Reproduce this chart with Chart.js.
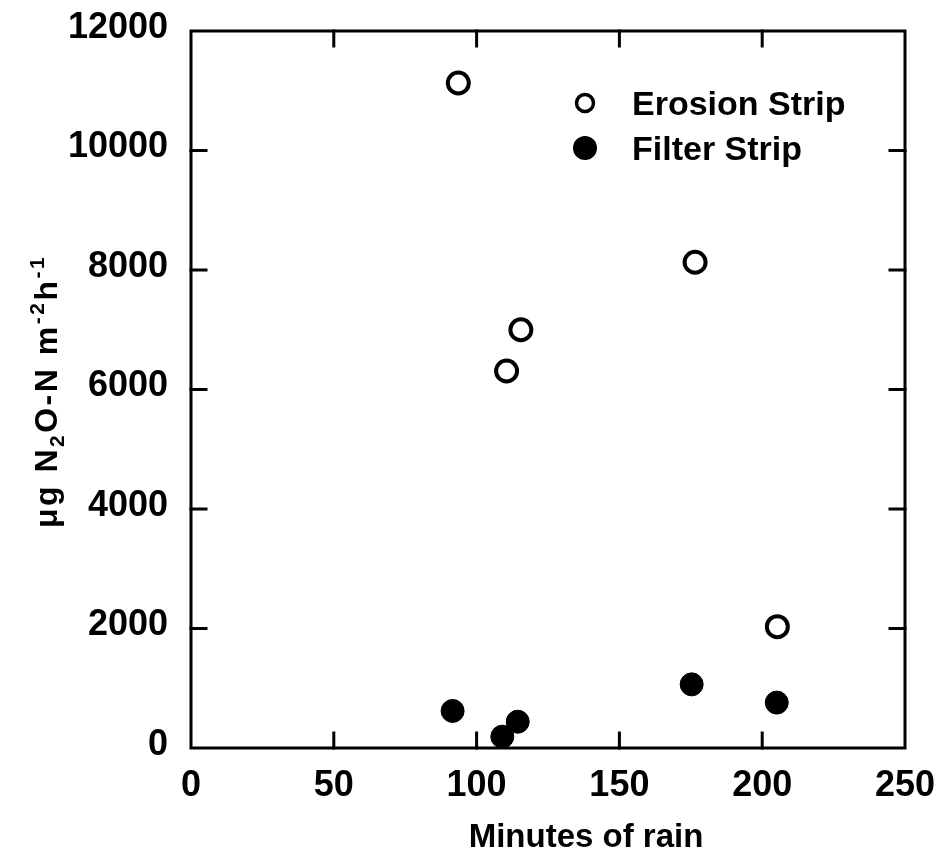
<!DOCTYPE html>
<html><head><meta charset="utf-8">
<script src="https://cdn.jsdelivr.net/npm/chart.js@4"></script>
<style>html,body{margin:0;padding:0;background:#fff}canvas{display:block}</style>
</head><body>
<canvas id="c" width="941" height="859"></canvas>
<script>
const FONT = '"Liberation Sans", Arial, Helvetica, sans-serif';

// ---- data ----
const erosionX = [93.6, 110.5, 115.5, 176.5, 205.3];
const erosionY = [11130, 6310, 7000, 8130, 2030];
const filterX  = [91.6, 109.0, 114.4, 175.3, 205.1];
const filterY  = [620, 190, 440, 1065, 760];
const seriesNames = ['Erosion Strip', 'Filter Strip'];
const xTickValues = [0, 50, 100, 150, 200, 250];
const yTickValues = [0, 2000, 4000, 6000, 8000, 10000, 12000];
const xTitle = 'Minutes of rain';
const yTitleParts = [['μg N',''],['2','sub'],['O-N m',''],['-2','sup'],['h',''],['-1','sup']];

const toPoints = (xs, ys) => xs.map((x, i) => ({x: x, y: ys[i]}));

// frame with inward ticks on all four sides
const framePlugin = {
  id: 'frame',
  beforeDatasetsDraw(chart) {
    const {ctx, chartArea: a, scales: {x, y}} = chart;
    const L = 15;
    ctx.save();
    ctx.strokeStyle = '#000';
    ctx.lineWidth = 3;
    ctx.lineCap = 'square';
    ctx.strokeRect(a.left, a.top, a.right - a.left, a.bottom - a.top);
    ctx.beginPath();
    xTickValues.slice(1, -1).forEach(v => {
      const px = x.getPixelForValue(v);
      ctx.moveTo(px, a.bottom); ctx.lineTo(px, a.bottom - L);
      ctx.moveTo(px, a.top); ctx.lineTo(px, a.top + L);
    });
    yTickValues.slice(1, -1).forEach(v => {
      const py = y.getPixelForValue(v);
      ctx.moveTo(a.left, py); ctx.lineTo(a.left + L, py);
      ctx.moveTo(a.right, py); ctx.lineTo(a.right - L, py);
    });
    ctx.stroke();
    ctx.restore();
  }
};

// axis titles (with sub/superscripts) and legend
const textPlugin = {
  id: 'texts',
  afterDraw(chart) {
    const {ctx, chartArea: a} = chart;
    ctx.save();
    ctx.fillStyle = '#000';
    // x title
    ctx.font = 'bold 33px ' + FONT;
    ctx.textAlign = 'center';
    ctx.textBaseline = 'alphabetic';
    ctx.fillText(xTitle, (a.left + a.right) / 2 + 38, 847);

    // y title rotated
    const mainF = 'bold 32px ' + FONT, smallF = 'bold 21px ' + FONT;
    ctx.translate(57, (a.top + a.bottom) / 2 + 2);
    ctx.rotate(-Math.PI / 2);
    ctx.textAlign = 'left';
    try { ctx.letterSpacing = '2.5px'; } catch (e) {}
    let total = 0;
    yTitleParts.forEach(([t, k]) => { ctx.font = k ? smallF : mainF; total += ctx.measureText(t).width; });
    let cx = -total / 2;
    yTitleParts.forEach(([t, k]) => {
      ctx.font = k ? smallF : mainF;
      const dy = k === 'sub' ? 7 : (k === 'sup' ? -13 : 0);
      ctx.fillText(t, cx, dy);
      cx += ctx.measureText(t).width;
    });
    ctx.restore();

    // legend
    ctx.save();
    const rows = [103, 148];
    chart.data.datasets.forEach((ds, i) => {
      const cy = rows[i], mx = 585;
      ctx.beginPath();
      if (ds.backgroundColor === '#000') {
        ctx.arc(mx, cy, 12, 0, Math.PI * 2);
        ctx.fillStyle = '#000'; ctx.fill();
      } else {
        ctx.arc(mx, cy, 8.5, 0, Math.PI * 2);
        ctx.lineWidth = 3.5; ctx.strokeStyle = '#000'; ctx.stroke();
      }
      ctx.fillStyle = '#000';
      ctx.font = 'bold 34px ' + FONT;
      ctx.textAlign = 'left';
      ctx.textBaseline = 'alphabetic';
      ctx.fillText(ds.label, 632, cy + 12);
    });
    ctx.restore();
  }
};

new Chart(document.getElementById('c'), {
  type: 'scatter',
  data: {
    datasets: [
      {
        label: seriesNames[0],
        data: toPoints(erosionX, erosionY),
        pointStyle: 'circle',
        pointRadius: 10.5,
        pointHoverRadius: 10.5,
        borderWidth: 4,
        borderColor: '#000',
        backgroundColor: '#fff',
        clip: false
      },
      {
        label: seriesNames[1],
        data: toPoints(filterX, filterY),
        pointStyle: 'circle',
        pointRadius: 11.5,
        pointHoverRadius: 11.5,
        borderWidth: 1,
        borderColor: '#000',
        backgroundColor: '#000',
        clip: false
      }
    ]
  },
  options: {
    responsive: false,
    animation: false,
    devicePixelRatio: 1,
    layout: { padding: { top: 31, right: 36, left: 0, bottom: 0 } },
    plugins: { legend: { display: false }, tooltip: { enabled: false } },
    scales: {
      x: {
        type: 'linear', min: 0, max: 250,
        afterFit(s) { s.height = 111; s.paddingLeft = 0; s.paddingRight = 0; },
        afterBuildTicks(s) { s.ticks = xTickValues.map(v => ({value: v})); },
        grid: { display: false, drawTicks: false },
        border: { display: false },
        ticks: { padding: 16, color: '#000', font: { family: FONT, size: 36, weight: 'bold' }, maxRotation: 0,
                 callback: v => String(v) }
      },
      y: {
        type: 'linear', min: 0, max: 12000,
        afterFit(s) { s.width = 191; s.paddingTop = 0; s.paddingBottom = 0; },
        afterBuildTicks(s) { s.ticks = yTickValues.map(v => ({value: v})); },
        grid: { display: false, drawTicks: false },
        border: { display: false },
        ticks: { padding: 23, labelOffset: -3, color: '#000', font: { family: FONT, size: 36, weight: 'bold' },
                 callback: v => String(v) }
      }
    }
  },
  plugins: [framePlugin, textPlugin]
});
</script>
</body></html>
